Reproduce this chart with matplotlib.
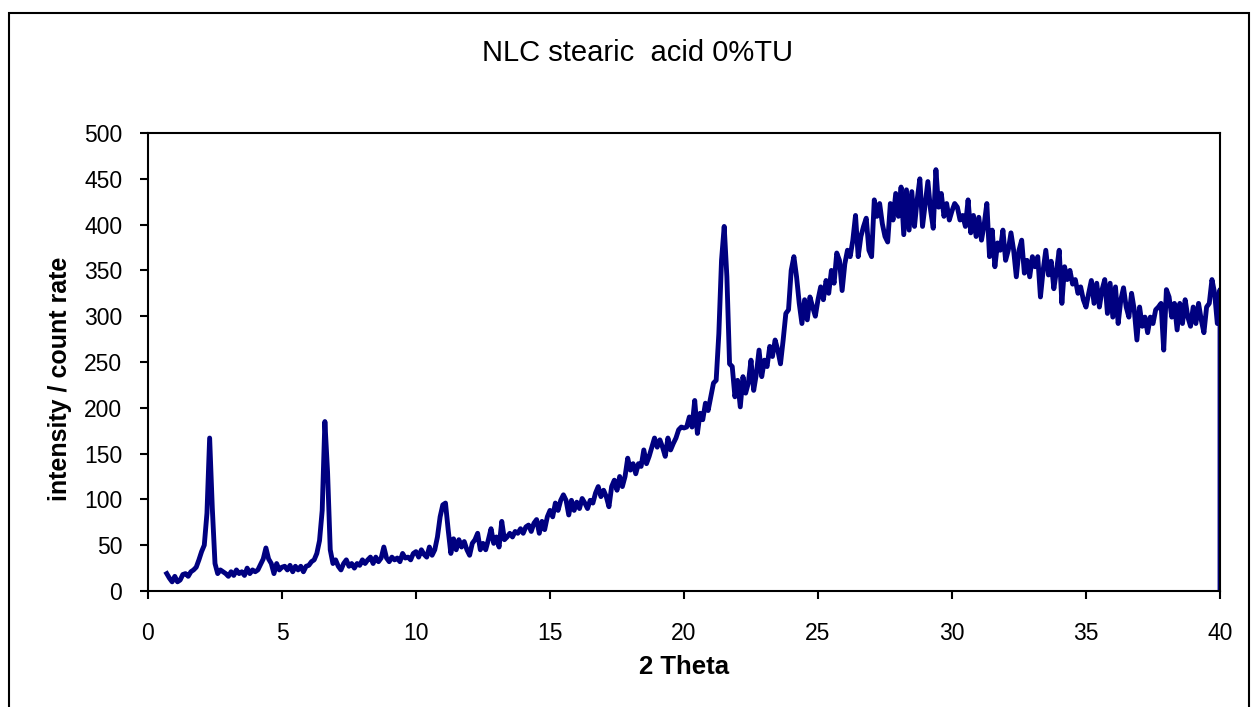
import numpy as np
import matplotlib
matplotlib.use("Agg")
import matplotlib.pyplot as plt
from matplotlib.patches import Rectangle

plt.rcParams["font.family"] = ["Liberation Sans", "DejaVu Sans"]

# 2 Theta grid: 0.7 .. 39.9 in steps of 0.1, then the final point at 40
theta_start = 0.7
theta_step = 0.1

# intensity, one row per degree
intensity = [
    19, 14, 10,
    16, 10, 12, 18, 19, 16, 21, 23, 26, 34,
    43, 50, 85, 167, 90, 30, 19, 23, 21, 19,
    16, 21, 17, 23, 19, 21, 17, 25, 19, 23,
    21, 23, 29, 35, 47, 35, 30, 19, 30, 23,
    26, 27, 23, 28, 21, 27, 23, 27, 21, 27,
    28, 32, 34, 41, 55, 88, 185, 130, 45, 30,
    34, 27, 23, 30, 34, 27, 30, 25, 30, 28,
    34, 30, 34, 37, 30, 37, 32, 36, 48, 36,
    32, 37, 34, 36, 32, 41, 36, 37, 34, 41,
    43, 37, 45, 40, 37, 48, 39, 45, 59, 81,
    94, 96, 67, 41, 57, 45, 56, 48, 54, 45,
    39, 52, 56, 63, 45, 52, 45, 56, 68, 52,
    59, 48, 76, 56, 59, 63, 59, 65, 63, 68,
    63, 70, 72, 65, 74, 78, 63, 76, 67, 81,
    88, 81, 96, 88, 99, 105, 99, 83, 99, 88,
    97, 90, 101, 96, 90, 99, 96, 107, 114, 103,
    110, 103, 92, 114, 121, 110, 125, 114, 125, 145,
    132, 139, 128, 139, 136, 154, 139, 147, 157, 167,
    157, 165, 157, 147, 167, 154, 161, 167, 176, 179,
    178, 179, 190, 179, 208, 172, 194, 187, 205, 197,
    212, 227, 230, 281, 361, 398, 343, 248, 245, 212,
    230, 201, 234, 216, 227, 252, 219, 237, 263, 234,
    252, 245, 267, 256, 274, 263, 248, 274, 303, 307,
    350, 365, 343, 314, 292, 318, 296, 321, 310, 300,
    318, 332, 318, 339, 325, 350, 336, 369, 361, 328,
    357, 372, 365, 383, 410, 365, 387, 398, 407, 372,
    365, 427, 409, 423, 401, 387, 381, 423, 405, 434,
    409, 441, 389, 438, 394, 436, 398, 427, 450, 398,
    423, 447, 416, 396, 460, 419, 434, 409, 423, 405,
    415, 423, 419, 405, 410, 398, 427, 391, 410, 387,
    408, 383, 400, 423, 365, 394, 354, 380, 372, 394,
    361, 372, 391, 372, 343, 372, 383, 347, 361, 343,
    365, 354, 365, 321, 350, 372, 345, 360, 330, 350,
    372, 314, 354, 340, 350, 335, 340, 325, 332, 318,
    310, 325, 339, 314, 336, 310, 329, 340, 303, 336,
    299, 332, 292, 318, 331, 310, 299, 325, 307, 274,
    310, 289, 299, 282, 299, 292, 307, 310, 314, 263,
    329, 321, 299, 314, 285, 314, 292, 318, 299, 289,
    310, 292, 314, 296, 282, 310, 314, 340, 325, 292,
]
end_theta = [40.0, 40.0]
end_intensity = [329, 0]

theta = theta_start + theta_step * np.arange(len(intensity))
theta = np.concatenate([theta, end_theta])
counts = np.concatenate([intensity, end_intensity])

fig = plt.figure(figsize=(12.51, 7.07), dpi=100)
fig.patches.append(Rectangle((9 / 1251, -0.05), 1240 / 1251, 1.05 - 13 / 707,
                             transform=fig.transFigure, fill=False,
                             edgecolor="black", linewidth=1.5))

ax = fig.add_axes([148 / 1251, 116 / 707, 1072 / 1251, 458 / 707])
ax.plot(theta, counts, color="#000080", linewidth=3.5, solid_joinstyle="round")

ax.set_xlim(0, 40)
ax.set_ylim(0, 500)
ax.set_xticks(np.arange(0, 41, 5))
ax.set_yticks(np.arange(0, 501, 50))
for s in ax.spines.values():
    s.set_linewidth(1.5)
ax.tick_params(direction="out", length=6, width=1.5, labelsize=16.5)
ax.tick_params(axis="x", pad=16)
ax.tick_params(axis="y", pad=12.5)

ax.set_xlabel("2 Theta", fontsize=18.5, fontweight="bold")
ax.xaxis.set_label_coords(0.5, -0.139)
ax.set_ylabel("intensity / count rate", fontsize=18, fontweight="bold")
ax.yaxis.set_label_coords(-0.071, 0.463)
fig.text(637 / 1251, 1 - 53 / 707, "NLC stearic  acid 0%TU", fontsize=21,
         ha="center", va="center")

fig.savefig("out.png", dpi=100)
